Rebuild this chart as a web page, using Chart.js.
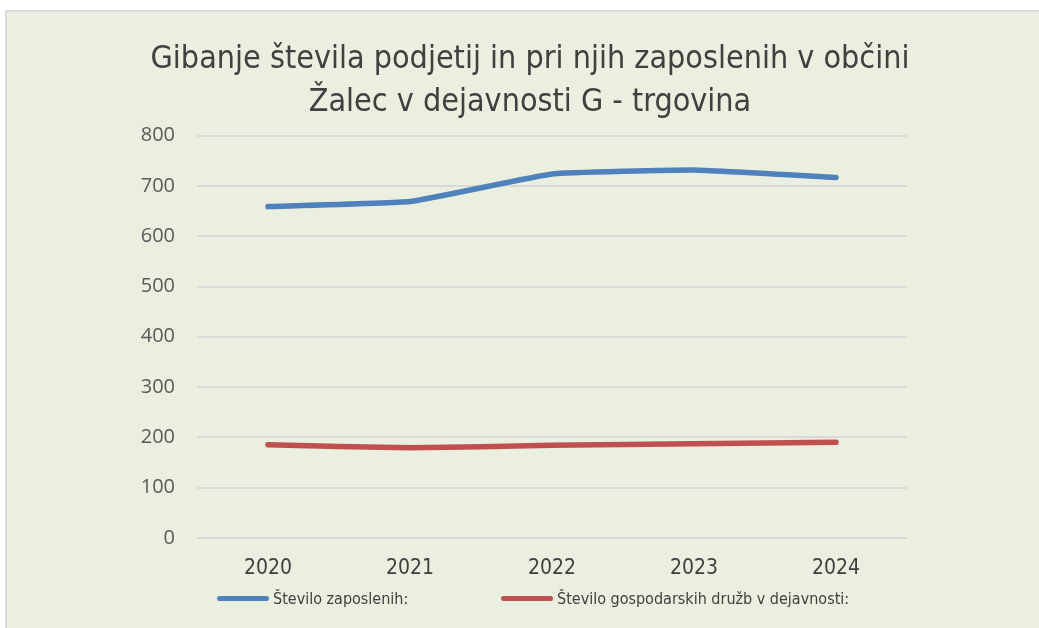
<!DOCTYPE html>
<html>
<head>
<meta charset="utf-8">
<script src="https://cdn.jsdelivr.net/npm/chart.js@4"></script>
<style>
    html, body { margin: 0; padding: 0; background: #fff; width: 1039px; height: 628px; overflow: hidden; }
    #panel {
        position: absolute; left: 5px; top: 10px;
        width: 1034px; height: 618px;
        border-top: 2px solid #d9d9d9; border-left: 2px solid #d9d9d9;
        background: #ebefdf;
    }
    #wrap { position: absolute; left: 7px; top: 12px; width: 1032px; height: 616px; }
    .legend-item { position: absolute; top: 586px; height: 24px; display: flex; align-items: center;
        font-family: "Liberation Sans Narrow", "DejaVu Sans Condensed", "Roboto Condensed", sans-serif;
        font-size: 16px; color: #404040; }
    .legend-line { width: 52px; height: 5px; border-radius: 3px; margin-right: 4px; }
</style>
</head>
<body>
<div id="panel"></div>
<div id="wrap"><canvas id="chart" width="1032" height="616"></canvas></div>
<div id="legend"></div>
<script>
const years = ['2020', '2021', '2022', '2023', '2024'];
const zaposleni = [659, 669, 724, 732, 717];
const druzbe = [185, 179, 184, 187, 190];
const yTicks = [0, 100, 200, 300, 400, 500, 600, 700, 800];

const seriesNames = ['Število zaposlenih:', 'Število gospodarskih družb v dejavnosti:'];
const seriesColors = ['#4f81bd', '#c0504d'];
const legendLeft = [210, 494];

const narrowFont = '"Liberation Sans Narrow", "DejaVu Sans Condensed", "Roboto Condensed", sans-serif';

function renderLegend() {
    const legend = document.getElementById('legend');
    legend.innerHTML = seriesNames.map((name, i) => `
        <div class="legend-item" style="left:${legendLeft[i] + 7}px">
            <div class="legend-line" style="background:${seriesColors[i]}"></div>
            <span>${name}</span>
        </div>
    `).join('');
}

const ctx = document.getElementById('chart');

new Chart(ctx, {
    type: 'line',
    data: {
        labels: years,
        datasets: [{
            label: seriesNames[0],
            data: zaposleni,
            borderColor: seriesColors[0],
            borderWidth: 5.5,
            tension: 0.1,
            pointRadius: 0,
            borderCapStyle: 'round',
            borderJoinStyle: 'round'
        }, {
            label: seriesNames[1],
            data: druzbe,
            borderColor: seriesColors[1],
            borderWidth: 5.5,
            tension: 0.1,
            pointRadius: 0,
            borderCapStyle: 'round',
            borderJoinStyle: 'round'
        }]
    },
    options: {
        responsive: false,
        animation: false,
        layout: {
            padding: { left: 14, right: 0, top: 0, bottom: 29 }
        },
        plugins: {
            legend: { display: false },
            tooltip: { enabled: false },
            title: {
                display: true,
                text: ['Gibanje števila podjetij in pri njih zaposlenih v občini', 'Žalec v dejavnosti G - trgovina'],
                color: '#404040',
                font: { family: narrowFont, size: 32, weight: 'normal', lineHeight: 1.34 },
                padding: { top: 26, bottom: 12 }
            }
        },
        scales: {
            x: {
                offset: true,
                grid: { display: false, drawTicks: false },
                border: { display: false },
                ticks: {
                    color: '#404040',
                    padding: 18,
                    font: { family: narrowFont, size: 21 }
                }
            },
            y: {
                min: 0,
                max: 800,
                afterBuildTicks: (scale) => {
                    scale.ticks = yTicks.map(v => ({ value: v }));
                },
                afterFit: (scale) => {
                    scale.width = 176;
                },
                grid: { color: '#d9d9d9', lineWidth: 2, drawTicks: false },
                border: { display: false },
                ticks: {
                    color: '#595959',
                    padding: 22,
                    font: { family: '"Open Sans", sans-serif', size: 20 }
                }
            },
            // empty right axis only keeps the right margin of the plot
            yRight: {
                position: 'right',
                min: 0,
                max: 800,
                afterFit: (scale) => {
                    scale.width = 132;
                },
                grid: { display: false, drawTicks: false },
                border: { display: false },
                ticks: { display: false }
            }
        }
    }
});

renderLegend();
</script>
</body>
</html>
